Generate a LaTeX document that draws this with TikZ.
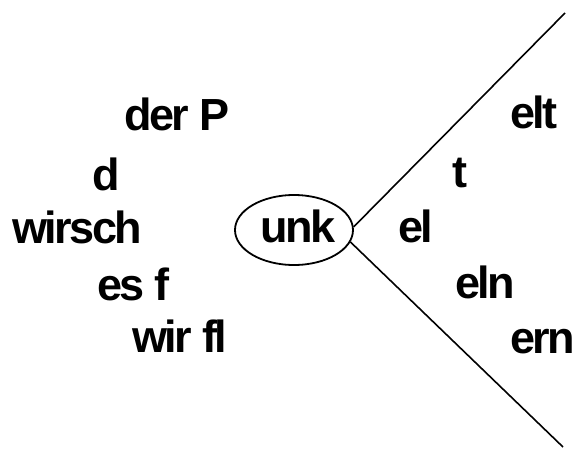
\documentclass[tikz,border=0pt]{standalone}
\usepackage{fontspec}
\newfontfamily\labfont[LetterSpace=-5.5]{Liberation Sans Bold}
\usetikzlibrary{shapes.geometric}
\tikzset{
  lab/.style={anchor=base west, inner sep=0pt, font=\labfont\fontsize{45}{45}\selectfont},
  ring/.style={draw, ellipse, line width=1.8pt, minimum width=118pt, minimum height=70pt, inner sep=0pt},
  branch/.style={line width=1.6pt}
}
\begin{document}
\begin{tikzpicture}[x=1pt,y=-1pt]
\useasboundingbox (0,0) rectangle (579,450);
\node[lab] (derP) at (124,130) {der P};
\node[lab] (d) at (92,190) {d};
\node[lab] (wirsch) at (12,243) {wirsch};
\node[lab] (esf) at (97,300) {es f};
\node[lab] (wirfl) at (132,352) {wir fl};
\node[ring] (u) at (294,230) {};
\node[lab] (unk) at (260,242) {unk};
\node[lab] (elt) at (510,128) {elt};
\node[lab] (t) at (452,187) {t};
\node[lab] (el) at (398,242) {el};
\node[lab] (eln) at (455,298) {eln};
\node[lab] (ern) at (510,353) {ern};
\coordinate (top) at (565,13);
\coordinate (bot) at (563,447);
\draw[branch] (u.3) -- (top);
\draw[branch] (u.-12) -- (bot);
\end{tikzpicture}
\end{document}
